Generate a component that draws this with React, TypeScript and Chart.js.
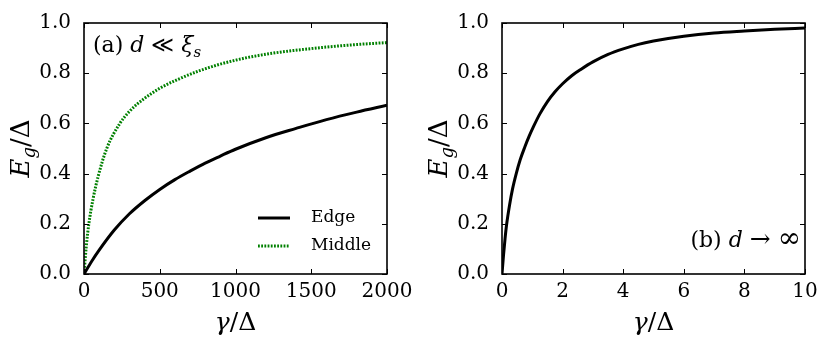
import React, { useEffect, useRef } from "react";
import { Chart, registerables } from "chart.js";
Chart.register(...registerables);

// ---- Data ----
// Panel (a): d << xi_s
const edgeGamma = [0, 50, 100, 200, 300, 400, 500, 600, 700, 800, 900, 1000, 1200, 1400, 1600, 1800, 2000];
const edgeGap = [0, 0.05, 0.095, 0.175, 0.24, 0.292, 0.337, 0.376, 0.41, 0.442, 0.47, 0.497, 0.543, 0.58, 0.615, 0.645, 0.672];
const middleGamma = [0, 15, 32, 60, 94, 150, 237, 300, 400, 500, 600, 763, 1000, 1250, 1500, 1750, 2000];
const middleGap = [0, 0.11, 0.2, 0.3, 0.39, 0.5, 0.6, 0.648, 0.7, 0.74, 0.77, 0.81, 0.852, 0.88, 0.898, 0.912, 0.922];
// Panel (b): d -> infinity
const infGamma = [0, 0.05, 0.1, 0.15, 0.25, 0.35, 0.47, 0.6, 0.75, 0.9, 1.05, 1.25, 1.5, 1.75, 2, 2.3, 2.6, 3, 3.5, 4, 4.5, 5, 6, 7, 8, 9, 10];
const infGap = [0, 0.075, 0.14, 0.195, 0.275, 0.34, 0.4, 0.455, 0.505, 0.55, 0.59, 0.638, 0.687, 0.726, 0.758, 0.79, 0.815, 0.845, 0.875, 0.897, 0.915, 0.928, 0.947, 0.96, 0.968, 0.975, 0.98];

const leftXTicks = [0, 500, 1000, 1500, 2000];
const rightXTicks = [0, 2, 4, 6, 8, 10];
const yTicks = [0, 0.2, 0.4, 0.6, 0.8, 1.0];

const seriesLabels = ["Edge", "Middle"];

const SERIF = "'DejaVu Serif', serif";
const GREEN = "#008000";

type Run = { t: string; it?: boolean; sub?: boolean; scale?: number };

function drawRich(ctx: CanvasRenderingContext2D, runs: Run[], x: number, y: number, size: number, align: "left" | "center" | "right") {
  const fontFor = (r: Run) => {
    const s = r.sub ? size * 0.7 : size * (r.scale || 1);
    return `${r.it ? "italic " : ""}${Math.round(s)}px ${SERIF}`;
  };
  let w = 0;
  for (const r of runs) {
    ctx.font = fontFor(r);
    w += ctx.measureText(r.t).width;
  }
  let cx = align === "left" ? x : align === "center" ? x - w / 2 : x - w;
  ctx.textAlign = "left";
  ctx.textBaseline = "alphabetic";
  ctx.fillStyle = "#000";
  for (const r of runs) {
    ctx.font = fontFor(r);
    ctx.fillText(r.t, cx, y + (r.sub ? size * 0.22 : 0));
    cx += ctx.measureText(r.t).width;
  }
}

function framePlugin(extra: (chart: any) => void) {
  return {
    id: "frameTicks",
    afterDraw(chart: any) {
      const ctx: CanvasRenderingContext2D = chart.ctx;
      const { left, right, top, bottom } = chart.chartArea;
      const xs = chart.scales.x;
      const ys = chart.scales.y;
      const TL = 5;
      ctx.save();
      ctx.strokeStyle = "#000";
      ctx.lineWidth = 1;
      ctx.beginPath();
      for (const t of xs.ticks) {
        const px = Math.round(xs.getPixelForValue(t.value)) + 0.5;
        ctx.moveTo(px, bottom);
        ctx.lineTo(px, bottom - TL);
        ctx.moveTo(px, top);
        ctx.lineTo(px, top + TL);
      }
      for (const t of ys.ticks) {
        const py = Math.round(ys.getPixelForValue(t.value)) + 0.5;
        ctx.moveTo(left, py);
        ctx.lineTo(left + TL, py);
        ctx.moveTo(right, py);
        ctx.lineTo(right - TL, py);
      }
      ctx.stroke();
      ctx.lineWidth = 1.6;
      ctx.strokeRect(left, top, right - left, bottom - top);
      const cxMid = (left + right) / 2;
      drawRich(ctx, [{ t: "γ", it: true }, { t: "/Δ" }], cxMid, 330, 25, "center");
      ctx.save();
      ctx.translate(left - 55, (top + bottom) / 2);
      ctx.rotate(-Math.PI / 2);
      drawRich(ctx, [{ t: "E", it: true }, { t: "g", it: true, sub: true }, { t: "/Δ" }], 0, 0, 26, "center");
      ctx.restore();
      extra(chart);
      ctx.restore();
    },
  };
}

function makeConfig(datasets: any[], xMax: number, xTicks: number[], padRight: number, yWidth: number, extra: (chart: any) => void): any {
  return {
    type: "line",
    data: { datasets },
    options: {
      animation: false,
      responsive: false,
      layout: { padding: { left: 0, top: 23, right: padRight, bottom: 0 } },
      plugins: { legend: { display: false }, tooltip: { enabled: false } },
      elements: { point: { radius: 0 } },
      scales: {
        x: {
          type: "linear",
          min: 0,
          max: xMax,
          grid: { display: false },
          border: { display: false },
          ticks: {
            color: "#000",
            font: { family: SERIF, size: 20 },
            padding: -2,
            maxRotation: 0,
            autoSkip: false,
            callback: (v: any) => String(v),
          },
          afterBuildTicks: (s: any) => {
            s.ticks = xTicks.map((v) => ({ value: v }));
          },
          afterFit: (s: any) => {
            s.height = 75;
          },
        },
        y: {
          type: "linear",
          min: 0,
          max: 1,
          grid: { display: false },
          border: { display: false },
          ticks: {
            color: "#000",
            font: { family: SERIF, size: 20 },
            padding: 5,
            autoSkip: false,
            callback: (v: any) => Number(v).toFixed(1),
          },
          afterBuildTicks: (s: any) => {
            s.ticks = yTicks.map((v) => ({ value: v }));
          },
          afterFit: (s: any) => {
            s.width = yWidth;
          },
        },
      },
    },
    plugins: [framePlugin(extra)],
  };
}

const toPts = (xs: number[], ys: number[]) => xs.map((x, i) => ({ x, y: ys[i] }));

export default function App() {
  const leftRef = useRef<HTMLCanvasElement>(null);
  const rightRef = useRef<HTMLCanvasElement>(null);

  useEffect(() => {
    const edgeDs = {
      label: seriesLabels[0],
      data: toPts(edgeGamma, edgeGap),
      borderColor: "#000",
      borderWidth: 3,
      fill: false,
      cubicInterpolationMode: "monotone",
    };
    const middleDs = {
      label: seriesLabels[1],
      data: toPts(middleGamma, middleGap),
      borderColor: GREEN,
      borderWidth: 3,
      borderDash: [1.8, 1.4],
      fill: false,
      cubicInterpolationMode: "monotone",
    };
    const infDs = {
      label: "d→∞",
      data: toPts(infGamma, infGap),
      borderColor: "#000",
      borderWidth: 3,
      fill: false,
      cubicInterpolationMode: "monotone",
    };

    const leftExtra = (chart: any) => {
      const ctx: CanvasRenderingContext2D = chart.ctx;
      drawRich(ctx, [{ t: "(a) " }, { t: "d", it: true }, { t: " ≪ " }, { t: "ξ", it: true }, { t: "s", it: true, sub: true }], 93, 52, 22, "left");
      const items = [
        { ds: edgeDs, y: 218 },
        { ds: middleDs, y: 246 },
      ];
      for (const it of items) {
        ctx.save();
        ctx.strokeStyle = it.ds.borderColor;
        ctx.lineWidth = it.ds.borderWidth;
        ctx.setLineDash((it.ds as any).borderDash || []);
        ctx.beginPath();
        ctx.moveTo(258, it.y);
        ctx.lineTo(290, it.y);
        ctx.stroke();
        ctx.restore();
        ctx.fillStyle = "#000";
        ctx.font = `17px ${SERIF}`;
        ctx.textAlign = "left";
        ctx.textBaseline = "middle";
        ctx.fillText(it.ds.label, 311, it.y);
      }
    };
    const rightExtra = (chart: any) => {
      const ctx: CanvasRenderingContext2D = chart.ctx;
      drawRich(ctx, [{ t: "(b) " }, { t: "d", it: true }, { t: " " }, { t: "→", scale: 1.15 }, { t: " " }, { t: "∞", scale: 1.25 }], 386, 247, 22, "right");
    };

    const a = new Chart(leftRef.current!, makeConfig([edgeDs, middleDs], 2000, leftXTicks, 28, 84, leftExtra));
    const b = new Chart(rightRef.current!, makeConfig([infDs], 10, rightXTicks, 25, 87, rightExtra));
    return () => {
      a.destroy();
      b.destroy();
    };
  }, []);

  return (
    <div style={{ position: "absolute", left: 0, top: 0, width: 830, height: 349, background: "#fff" }}>
      <canvas ref={leftRef} width={415} height={349} style={{ position: "absolute", left: 0, top: 0 }} />
      <canvas ref={rightRef} width={415} height={349} style={{ position: "absolute", left: 415, top: 0 }} />
    </div>
  );
}
